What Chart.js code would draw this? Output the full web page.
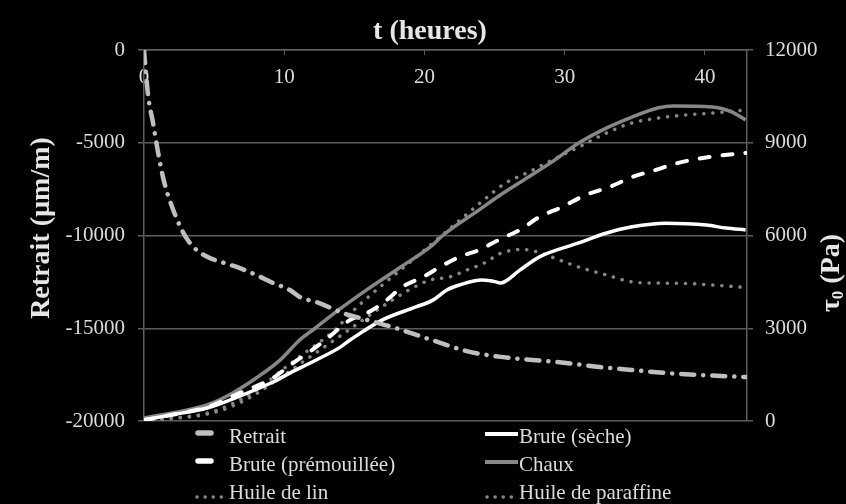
<!DOCTYPE html>
<html>
<head>
<meta charset="utf-8">
<script src="https://cdn.jsdelivr.net/npm/chart.js@4.4.1/dist/chart.umd.min.js"></script>
<style>
  html, body { margin: 0; padding: 0; background: #000; }
  canvas { display: block; }
</style>
</head>
<body>
<canvas id="chart" width="846" height="504"></canvas>
<script>
// values (t in hours)
const tRetrait = [0, 0.1, 0.3, 0.65, 1.0, 1.4, 2.0, 2.8, 3.5, 4.5, 5.6, 6.8, 8.0, 9.2, 10.4, 11.1, 12.5, 14.2, 15.9, 17.7, 20.6, 23.0, 25.3, 27.7, 30.1, 32.5, 34.8, 37.2, 39.6, 42.9];
const retrait = [0, -900, -2500, -3950, -5500, -7000, -8450, -9850, -10600, -11150, -11450, -11750, -12130, -12560, -12940, -13310, -13640, -14180, -14550, -14930, -15650, -16230, -16530, -16710, -16870, -17090, -17250, -17410, -17520, -17630];

const tSeche = [0, 2, 4.5, 6.8, 9.2, 10.4, 12, 14, 14.7, 17, 19.4, 20.6, 21.6, 22.5, 24.1, 25.1, 25.4, 26.8, 28.2, 31, 33, 34.8, 37.2, 40.1, 41.5, 42.9];
const seche = [30, 200, 420, 800, 1260, 1550, 1910, 2390, 2620, 3270, 3690, 3910, 4240, 4400, 4560, 4500, 4460, 4880, 5310, 5760, 6080, 6280, 6400, 6340, 6240, 6180];

const tPremouillee = [0, 2, 4.5, 6.8, 9.2, 10.4, 12, 13.2, 14.7, 15.9, 17.3, 18.4, 19.9, 21.1, 22.5, 23.9, 25.3, 26.8, 28.2, 29.8, 31.5, 33.2, 34.8, 36.5, 38.1, 40.3, 42.9];
const premouillee = [30, 200, 450, 900, 1390, 1800, 2300, 2720, 3270, 3490, 3910, 4330, 4660, 4980, 5310, 5530, 5860, 6180, 6600, 6920, 7310, 7570, 7890, 8120, 8350, 8540, 8670];

const tChaux = [0, 2, 4.5, 6.3, 8, 9.7, 11.1, 12.2, 13.9, 15.9, 18.2, 20.6, 21.3, 23.9, 25.3, 27.3, 29.1, 31, 33, 34.8, 36.7, 37.7, 40.5, 41.9, 42.9];
const chaux = [100, 260, 520, 900, 1390, 1970, 2620, 3000, 3600, 4250, 4950, 5700, 6000, 6830, 7280, 7860, 8380, 8990, 9480, 9830, 10130, 10190, 10160, 10000, 9740];

const tLin = [0, 2, 4.5, 6.3, 8, 9.7, 11.6, 13.5, 15.2, 17, 19.4, 21.8, 24.1, 25.8, 27.3, 29.1, 31, 33, 34.8, 36.7, 38.6, 40.5, 42.9];
const lin = [0, 90, 250, 560, 980, 1600, 2250, 2900, 3690, 4400, 5300, 6220, 7100, 7700, 8020, 8440, 8860, 9320, 9640, 9800, 9900, 9960, 10060];

const tParaffine = [0, 2, 4.5, 6.3, 8, 9.7, 11.6, 13.9, 14.9, 16.3, 17.7, 18.9, 20.4, 21.8, 23, 24.4, 25.3, 27, 28.2, 29.6, 31, 33, 34.8, 36.7, 38.6, 40.5, 42.6];
const paraffine = [0, 80, 220, 480, 880, 1400, 2000, 2720, 3040, 3490, 3910, 4240, 4560, 4660, 4880, 5140, 5400, 5550, 5450, 5210, 4980, 4720, 4500, 4460, 4450, 4400, 4330];

const seriesNames = ['Retrait', 'Brute (sèche)', 'Brute (prémouillée)', 'Chaux', 'Huile de lin', 'Huile de paraffine'];
const xTicks = [0, 43, 10];          // min, max, step
const leftTicks = [-20000, 0, 5000];
const rightTicks = [0, 12000, 3000];

const serif = "'Liberation Serif', 'Times New Roman', serif";
const textColor = '#dcdcdc';
const titleColor = '#e6e6e6';
const gridColor = '#5e5e5e';

const pts = (xs, ys) => xs.map((x, i) => ({ x: x, y: ys[i] }));

Chart.defaults.font.family = serif;
Chart.defaults.font.size = 21;
Chart.defaults.color = textColor;

// legend boxes in two columns, drawn by hand
const legendCol = [195, 485];
const legendTextX = [229, 519];
const legendRow = [437, 465, 493];

const customDraw = {
    id: 'customDraw',
    beforeDraw(chart) {
        const ctx = chart.ctx;
        ctx.save();
        ctx.fillStyle = '#000';
        ctx.fillRect(0, 0, chart.width, chart.height);
        ctx.restore();
    },
    afterDraw(chart) {
        const ctx = chart.ctx;
        chart.data.datasets.forEach((ds, i) => {
            const col = i % 2;
            const y = legendRow[Math.floor(i / 2)];
            const x = legendCol[col];
            ctx.save();
            ctx.strokeStyle = ds.borderColor;
            ctx.beginPath();
            if (ds.legendKind === 'bar') {
                ctx.lineWidth = 5.5;
                ctx.lineCap = 'round';
                ctx.moveTo(x + 3, y - 4);
                ctx.lineTo(x + 16, y - 4);
            } else if (ds.legendKind === 'dots') {
                ctx.lineWidth = 3.5;
                ctx.lineCap = 'round';
                ctx.setLineDash([0.1, 8]);
                ctx.moveTo(x + 2, y + 4);
                ctx.lineTo(x + 30, y + 4);
            } else {
                ctx.lineWidth = 4;
                ctx.moveTo(x, y - 3);
                ctx.lineTo(x + 33, y - 3);
            }
            ctx.stroke();
            ctx.fillStyle = textColor;
            ctx.font = '21px ' + serif;
            ctx.textBaseline = 'middle';
            ctx.textAlign = 'left';
            ctx.fillText(ds.label, legendTextX[col], y);
            ctx.restore();
        });

        const big = 'bold 28px ' + serif;
        const small = 'bold 17px ' + serif;

        // axis titles
        ctx.save();
        ctx.fillStyle = titleColor;
        ctx.font = big;
        ctx.textAlign = 'center';
        ctx.textBaseline = 'middle';
        ctx.fillText('t (heures)', 430, 32);
        ctx.translate(42, 228);
        ctx.rotate(-Math.PI / 2);
        ctx.fillText('Retrait (µm/m)', 0, 0);
        ctx.restore();

        // right axis title, read bottom to top, with subscript
        ctx.save();
        ctx.translate(832, 273);
        ctx.rotate(-Math.PI / 2);
        ctx.fillStyle = titleColor;
        ctx.textBaseline = 'middle';
        ctx.textAlign = 'left';
        ctx.font = big;
        const wTau = ctx.measureText('τ').width;
        const wRest = ctx.measureText(' (Pa)').width;
        ctx.font = small;
        const wSub = ctx.measureText('0').width;
        const x0 = -(wTau + wSub + wRest) / 2;
        ctx.font = big;
        ctx.fillText('τ', x0, 0);
        ctx.font = small;
        ctx.fillText('0', x0 + wTau, 7);
        ctx.font = big;
        ctx.fillText(' (Pa)', x0 + wTau + wSub, 0);
        ctx.restore();
    }
};

new Chart(document.getElementById('chart').getContext('2d'), {
    type: 'line',
    data: {
        datasets: [
            {
                label: seriesNames[0],
                data: pts(tRetrait, retrait),
                yAxisID: 'y',
                borderColor: '#bfbfbf',
                borderWidth: 4.5,
                borderDash: [13, 9, 0.1, 9],
                borderCapStyle: 'round',
                legendKind: 'bar'
            },
            {
                label: seriesNames[1],
                data: pts(tSeche, seche),
                yAxisID: 'y2',
                borderColor: '#ffffff',
                borderWidth: 3.5,
                legendKind: 'line'
            },
            {
                label: seriesNames[2],
                data: pts(tPremouillee, premouillee),
                yAxisID: 'y2',
                borderColor: '#ffffff',
                borderWidth: 4,
                borderDash: [10, 13],
                borderCapStyle: 'round',
                legendKind: 'bar'
            },
            {
                label: seriesNames[3],
                data: pts(tChaux, chaux),
                yAxisID: 'y2',
                borderColor: '#878787',
                borderWidth: 3.5,
                legendKind: 'line'
            },
            {
                label: seriesNames[4],
                data: pts(tLin, lin),
                yAxisID: 'y2',
                borderColor: '#878787',
                borderWidth: 3.5,
                borderDash: [0.1, 9],
                borderCapStyle: 'round',
                legendKind: 'dots'
            },
            {
                label: seriesNames[5],
                data: pts(tParaffine, paraffine),
                yAxisID: 'y2',
                borderColor: '#878787',
                borderWidth: 3.5,
                borderDash: [0.1, 9],
                borderCapStyle: 'round',
                legendKind: 'dots'
            }
        ]
    },
    options: {
        responsive: false,
        animation: false,
        elements: { point: { radius: 0 }, line: { cubicInterpolationMode: 'monotone' } },
        layout: { padding: { left: 0, right: 0, top: 0, bottom: 83 } },
        plugins: { legend: { display: false }, tooltip: { enabled: false } },
        scales: {
            x: {
                type: 'linear',
                position: 'top',
                min: xTicks[0],
                max: xTicks[1],
                afterFit: s => { s.height = 50; },
                grid: { drawOnChartArea: false, tickLength: -5, color: gridColor },
                border: { color: gridColor, width: 1.5 },
                ticks: { stepSize: xTicks[2], includeBounds: false, mirror: true, padding: 15, maxRotation: 0, autoSkip: false }
            },
            y: {
                position: 'left',
                min: leftTicks[0],
                max: leftTicks[1],
                afterFit: s => { s.width = 144; },
                grid: { color: gridColor, tickLength: 6, lineWidth: 1.5 },
                border: { color: gridColor, width: 1.5 },
                ticks: { stepSize: leftTicks[2], padding: 13, callback: v => String(v) }
            },
            y2: {
                position: 'right',
                min: rightTicks[0],
                max: rightTicks[1],
                afterFit: s => { s.width = 99; },
                grid: { drawOnChartArea: false, color: gridColor, tickLength: 6, lineWidth: 1.5 },
                border: { color: gridColor, width: 1.5 },
                ticks: { stepSize: rightTicks[2], padding: 12, callback: v => String(v) }
            }
        }
    },
    plugins: [customDraw]
});
</script>
</body>
</html>
